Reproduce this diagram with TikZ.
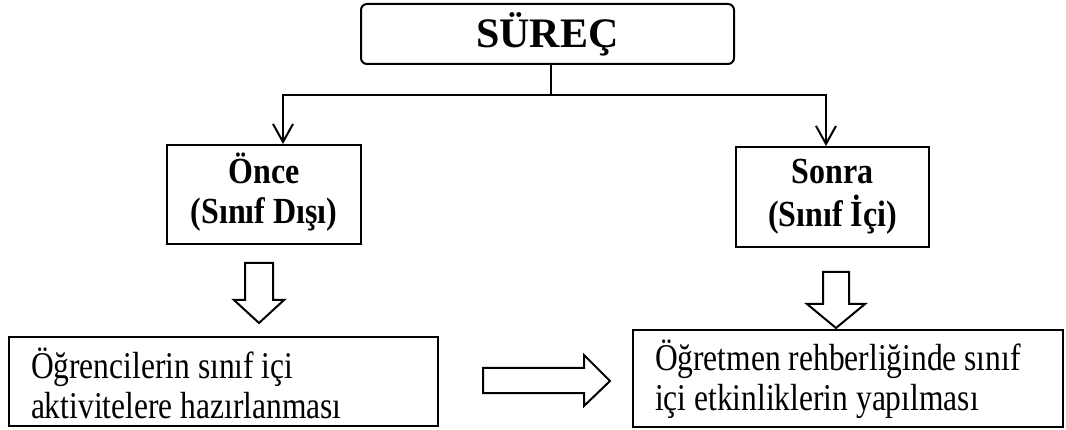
\documentclass[tikz,border=0pt]{standalone}
\usepackage{fontspec}
\setmainfont{Liberation Serif}
\usetikzlibrary{arrows.meta}
\newcommand{\vtxt}[3]{\scalebox{1}[#1]{\begin{tabular}{@{}#2@{}}#3\end{tabular}}}
\begin{document}
\begin{tikzpicture}[x=1pt,y=-1pt,line width=2pt,
  hdr/.style={draw,align=center,inner sep=0pt,font=\bfseries\fontsize{32}{35}\selectfont},
  plainbox/.style={draw,inner sep=0pt},
  bodytext/.style={anchor=west,inner sep=0pt,align=left,font=\fontsize{31.5}{33}\selectfont},
  barb/.tip={Straight Barb[length=18pt,width=20pt]},
  blk/.style={draw,line width=2pt,line join=miter,fill=white}]
\useasboundingbox (0,0) rectangle (1066,430);
% boxes
\node[hdr,rounded corners=6pt,minimum width=373pt,minimum height=60pt,
      font=\bfseries\fontsize{42}{48}\selectfont] (s) at (547.5,34) {SÜREÇ};
\node[hdr,minimum width=194pt,minimum height=99pt] (once) at (264,194.5)
   {\vtxt{1.15}{c}{Önce\\(Sınıf Dışı)}};
\node[hdr,minimum width=193pt,minimum height=100pt] (sonra) at (832.5,197)
   {\vtxt{1.15}{c}{Sonra\\(Sınıf İçi)}};
\node[plainbox,minimum width=429pt,minimum height=89pt] (ogr) at (223.5,381.5) {};
\node[plainbox,minimum width=430pt,minimum height=97pt] (ogt) at (848,378.5) {};
\node[bodytext] (ogrt) at (30,389)
   {\vtxt{1.2}{l}{Öğrencilerin sınıf içi\\aktivitelere hazırlanması}};
\node[bodytext] (ogtt) at (654,381)
   {\vtxt{1.2}{l}{Öğretmen rehberliğinde sınıf\\içi etkinliklerin yapılması}};
% connectors
\coordinate (jl) at (283,95);
\coordinate (jr) at (826,95);
\coordinate (tr) at (551,95);
\draw (tr |- s.south) -- (tr);
\draw[barb-barb] (jl |- once.north) -- (jl) -- (jr) -- (jr |- sonra.north);
% block arrows
\draw[blk] (245,263) -- (273,263) -- (273,300) -- (284,300) -- (259,323)
  -- (234,300) -- (245,300) -- cycle;
\draw[blk] (823,272) -- (849,272) -- (849,304) -- (865,304) -- (836,328)
  -- (807,304) -- (823,304) -- cycle;
\draw[blk] (483,368) -- (584,368) -- (584,355) -- (610,381) -- (584,406)
  -- (584,393) -- (483,393) -- cycle;
\end{tikzpicture}
\end{document}
